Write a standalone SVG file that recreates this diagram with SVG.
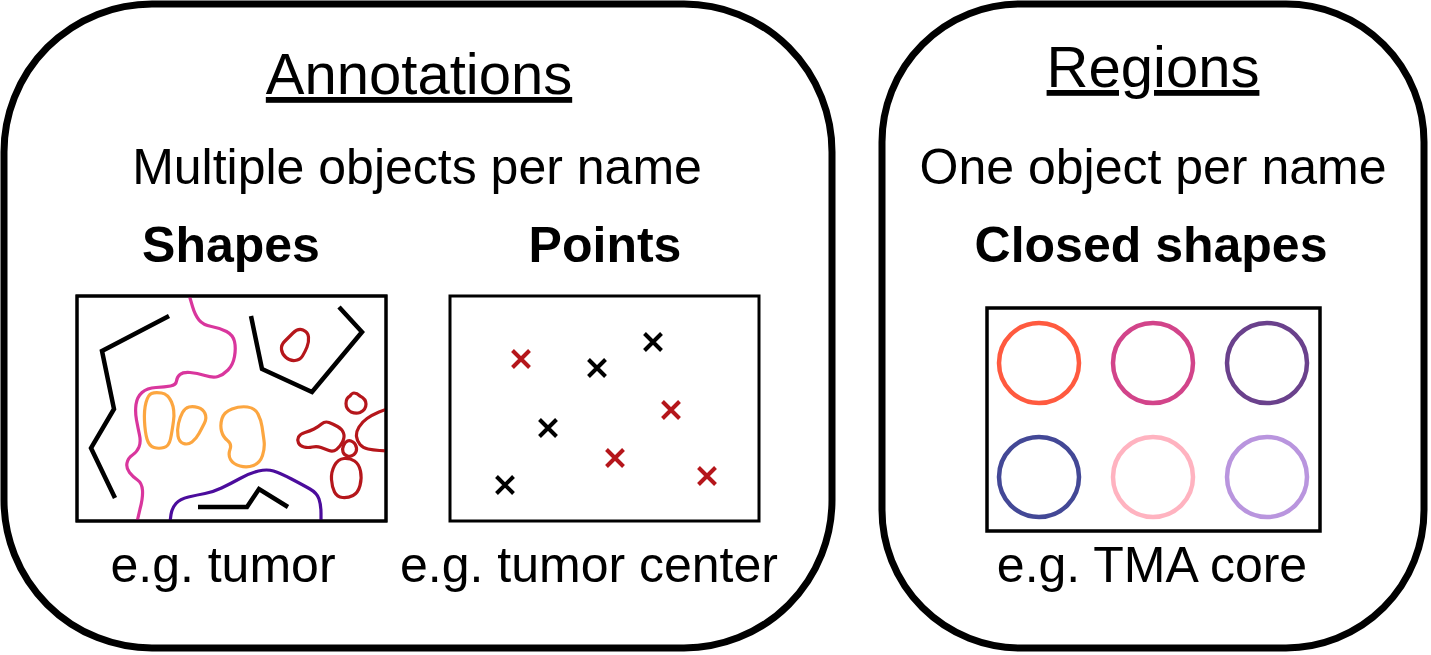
<svg xmlns="http://www.w3.org/2000/svg" xmlns:xlink="http://www.w3.org/1999/xlink" width="1431" height="655" viewBox="0 0 1431 655">
<style>
  .outer { fill: #fff; stroke: #000; stroke-width: 7; }
  .panel { fill: #fff; stroke: #000; stroke-width: 3; }
  .frame { fill: none; stroke: #000; stroke-width: 3; }
  .t { font-family: "Liberation Sans", Arial, sans-serif; fill: #000; text-anchor: middle; }
  .title { font-size: 58px; text-decoration: underline; }
  .sub { font-size: 50px; }
  .bold { font-size: 50px; font-weight: bold; }
  .blk { fill: none; stroke: #000; stroke-width: 4.5; stroke-linejoin: miter; }
  .ln { fill: none; stroke-width: 3.2; stroke-linejoin: round; stroke-linecap: round; }
  .mag { stroke: #d9369d; }
  .pur { stroke: #4b0c9c; }
  .org { stroke: #fca640; }
  .red { stroke: #b5161b; }
  .xk { fill: none; stroke: #000; stroke-width: 4; }
  .xr { fill: none; stroke: #b5161b; stroke-width: 4; }
  .ring { fill: none; stroke-width: 4.5; }
</style>
<defs>
  <path id="cross" d="M-8.5,-8.5 L8.5,8.5 M-8.5,8.5 L8.5,-8.5"/>
  <clipPath id="clipShapes"><rect x="77" y="296" width="309" height="225"/></clipPath>
</defs>
<rect width="1431" height="655" fill="#fff"/>

<g id="annotations">
  <rect class="outer" x="4" y="4" width="828" height="644" rx="148" ry="148"/>
  <text class="t title" x="419" y="94">Annotations</text>
  <text class="t sub" x="417" y="184">Multiple objects per name</text>

  <g id="shapes">
    <text class="t bold" x="231" y="262">Shapes</text>
    <rect class="panel" x="77" y="296" width="309" height="225"/>
    <g clip-path="url(#clipShapes)">
      <polyline class="blk" points="169,316 102,351 114,409 91,448 115,498"/>
      <polyline class="blk" points="251,316 262,369 312,392 362,332 339,307"/>
      <polyline class="blk" points="198,507 247,507 259,489 288,507"/>
      <path class="ln mag" d="M190,298 L192.5,306.5 Q195,315 199,320 Q203,325 211.5,326.5 Q220,328 226.5,331.5 Q233,335 234.5,341.5 Q236,348 234.5,356.5 Q233,365 228,370 Q223,375 218,376.5 Q213,378 205,375.5 Q197,373 190,372.5 Q183,372 180,374.5 Q177,377 176.5,381 Q176,385 170.5,386 Q165,387 156,387.5 Q147,388 142,392.5 Q137,397 136,404.5 Q135,412 136.5,420 Q138,428 139.5,435 Q141,442 139,447 Q137,452 132.5,455 Q128,458 127,463 Q126,468 129.5,472.5 Q133,477 137.5,480 Q142,483 142.5,490.5 Q143,498 140,509 L137,522"/>
      <path class="ln pur" d="M170,522 L171,514.5 Q172,508 176,503.5 Q180,499 188.5,497 Q197,495 205,493.5 Q213,492 221.5,488 Q230,484 240,478.5 Q250,473 258.5,471 Q267,469 273.5,471 Q280,473 291.5,479 Q303,485 310,489 Q317,493 319,499 Q321,505 321,513 L321,522"/>
      <path class="ln org" d="M151.5,393.5 Q155,392 161.5,393 Q168,394 171.5,402 Q175,410 173.5,421 Q172,432 170.5,439 Q169,446 164,447.5 Q159,449 154,447.5 Q149,446 147,439 Q145,432 144.5,421 Q144,410 146,402.5 Q148,395 151.5,393.5 Z"/>
      <path class="ln org" d="M189,407 Q193,406 198,407.5 Q203,409 205,413.5 Q207,418 204.5,423 Q202,428 199,433.5 Q196,439 192,442 Q188,445 183.5,443.5 Q179,442 178,436 Q177,430 178.5,423.5 Q180,417 182.5,412.5 Q185,408 189,407 Z"/>
      <path class="ln org" d="M232,409 Q240,406 247.5,407 Q255,408 258,414 Q261,420 262,426.5 Q263,433 264,440.5 Q265,448 262.5,455.5 Q260,463 253.5,465.5 Q247,468 240,466 Q233,464 230.5,459.5 Q228,455 230,449.5 Q232,444 227.5,440.5 Q223,437 221.5,431 Q220,425 222,418.5 Q224,412 232,409 Z"/>
      <path class="ln red" d="M293,333 Q298,328 303,330 Q308,332 308.5,337 Q309,342 307,347 Q305,352 302.5,356 Q300,360 295,360.5 Q290,361 286,357.5 Q282,354 281.5,349.5 Q281,345 284.5,341.5 Q288,338 293,333 Z"/>
      <path class="ln red" d="M354,393 Q357,393 360,396 Q366,399 366,404 Q366,410 360,412.5 Q356,414 351,412 Q346,409 346,403.5 Q346,398 350,396 Q352,393 354,393 Z"/>
      <path class="ln red" d="M298.5,437 Q300,434 305,432.5 Q310,431 314,429 Q318,427 321.5,424 Q325,421 329,422.5 Q333,424 337.5,426.5 Q342,429 343.5,433 Q345,437 342.5,442 Q340,447 336.5,449.5 Q333,452 329,450.5 Q325,449 321,447.5 Q317,446 312.5,447 Q308,448 304,447 Q300,446 298.5,443 Q297,440 298.5,437 Z"/>
      <path class="ln red" d="M347.5,441 Q350,440 353,442 Q356,444 356.5,448 Q357,452 354,454.5 Q351,457 347.5,456 Q344,455 343,452 Q342,449 343.5,445.5 Q345,442 347.5,441 Z"/>
      <path class="ln red" d="M334.5,465.5 Q338,459 344,458.5 Q350,458 354.5,461 Q359,464 360.5,471 Q362,478 360,485.5 Q358,493 353,495.5 Q348,498 342.5,497.5 Q337,497 334.5,492 Q332,487 331.5,479.5 Q331,472 334.5,465.5 Z"/>
      <path class="ln red" d="M387,409 L379,412 Q372,415 367,418.5 Q362,422 359,427 Q356,432 356.5,436.5 Q357,441 360,444.5 Q363,448 368,449 Q373,450 379.5,450.5 L387,451"/>
    </g>
    <rect class="frame" x="77" y="296" width="309" height="225"/>
    <text class="t sub" x="223" y="582">e.g. tumor</text>
  </g>

  <g id="points">
    <text class="t bold" x="605" y="262">Points</text>
    <rect class="panel" x="450" y="296" width="309" height="225"/>
    <use xlink:href="#cross" href="#cross" class="xr" x="521" y="359"/>
    <use xlink:href="#cross" href="#cross" class="xk" x="597" y="368"/>
    <use xlink:href="#cross" href="#cross" class="xk" x="653" y="342"/>
    <use xlink:href="#cross" href="#cross" class="xr" x="671" y="410"/>
    <use xlink:href="#cross" href="#cross" class="xk" x="548" y="428"/>
    <use xlink:href="#cross" href="#cross" class="xr" x="615" y="458"/>
    <use xlink:href="#cross" href="#cross" class="xk" x="505" y="485"/>
    <use xlink:href="#cross" href="#cross" class="xr" x="707" y="476"/>
    <text class="t sub" x="589" y="582">e.g. tumor center</text>
  </g>
</g>

<g id="regions">
  <rect class="outer" x="882" y="4" width="542" height="644" rx="138" ry="138"/>
  <text class="t title" x="1153" y="87">Regions</text>
  <text class="t sub" x="1153" y="184">One object per name</text>
  <g id="closed-shapes">
    <text class="t bold" x="1151" y="262">Closed shapes</text>
    <rect class="panel" x="987" y="308" width="333" height="223" style="stroke-width:3.5"/>
    <circle class="ring" cx="1039" cy="363" r="40" stroke="#ff5a3f"/>
    <circle class="ring" cx="1153" cy="363" r="40" stroke="#d2448a"/>
    <circle class="ring" cx="1267" cy="363" r="40" stroke="#6a418c"/>
    <circle class="ring" cx="1039" cy="477" r="40" stroke="#434896"/>
    <circle class="ring" cx="1153" cy="477" r="40" stroke="#ffb3c0"/>
    <circle class="ring" cx="1267" cy="477" r="40" stroke="#b995de"/>
    <text class="t sub" x="1152" y="582">e.g. TMA core</text>
  </g>
</g>
</svg>
